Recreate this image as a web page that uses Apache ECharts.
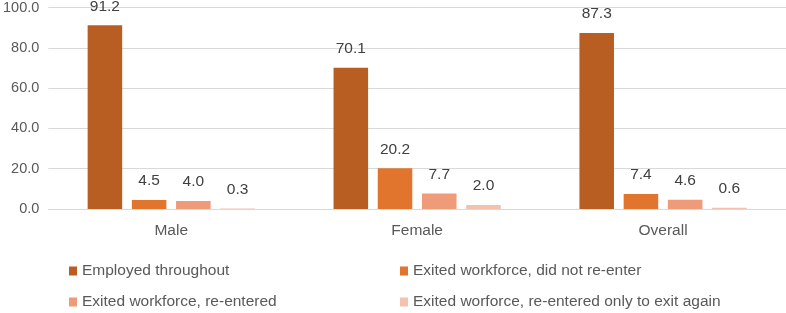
<!DOCTYPE html>
<html>
<head>
<meta charset="utf-8">
<script src="https://cdn.jsdelivr.net/npm/echarts@6/dist/echarts.min.js"></script>
<style>
  html, body { margin: 0; padding: 0; background: #fff; }
  #chart { width: 786px; height: 313px; }
</style>
</head>
<body>
<div id="chart"></div>
<script>
// data
var categories = ['Male', 'Female', 'Overall'];
var seriesNames = [
  'Employed throughout',
  'Exited workforce, did not re-enter',
  'Exited workforce, re-entered',
  'Exited worforce, re-entered only to exit again'
];
var employed = [91.2, 70.1, 87.3];
var exitedNoReturn = [4.5, 20.2, 7.4];
var reEntered = [4.0, 7.7, 4.6];
var reEnteredExitAgain = [0.3, 2.0, 0.6];
var yTicks = [0, 20, 40, 60, 80, 100];

var colors = ['#b85e22', '#e2752e', '#ef9a78', '#f4c1ae'];
var font = 'Liberation Sans';

var allData = [employed, exitedNoReturn, reEntered, reEnteredExitAgain];

var legendText = { fontSize: 15.5, color: '#595959', fontFamily: font, lineHeight: 18 };

var chart = echarts.init(document.getElementById('chart'));
chart.setOption({
  animation: false,
  textStyle: { fontFamily: font },
  color: colors,
  grid: { left: 48, right: 0, top: 7, bottom: 104 },
  legend: [
    {
      data: [seriesNames[0], seriesNames[2]],
      orient: 'vertical', left: 69, top: 262, itemGap: 13, padding: 0,
      height: 51, itemWidth: 8, itemHeight: 9, icon: 'rect',
      textStyle: legendText
    },
    {
      data: [seriesNames[1], seriesNames[3]],
      orient: 'vertical', left: 400, top: 262, itemGap: 13, padding: 0,
      height: 51, itemWidth: 8, itemHeight: 9, icon: 'rect',
      textStyle: legendText
    }
  ],
  xAxis: {
    type: 'category',
    data: categories,
    axisLine: { lineStyle: { color: '#d9d9d9' } },
    axisTick: { show: false },
    axisLabel: { fontSize: 15.5, color: '#595959', margin: 14 }
  },
  yAxis: {
    type: 'value',
    min: yTicks[0], max: yTicks[yTicks.length - 1], interval: 20,
    axisLine: { show: false },
    axisTick: { show: false },
    splitLine: { lineStyle: { color: '#d9d9d9' } },
    axisLabel: {
      fontSize: 14.5, color: '#595959', margin: 9,
      formatter: function (v) { return v.toFixed(1); }
    }
  },
  series: allData.map(function (d, i) {
    return {
      name: seriesNames[i],
      type: 'bar',
      data: d,
      barGap: '28%',
      barCategoryGap: '32%',
      label: {
        show: true, position: 'top', distance: 11,
        fontSize: 15.5, color: '#404040',
        formatter: function (p) { return p.value.toFixed(1); }
      }
    };
  })
});
</script>
</body>
</html>
